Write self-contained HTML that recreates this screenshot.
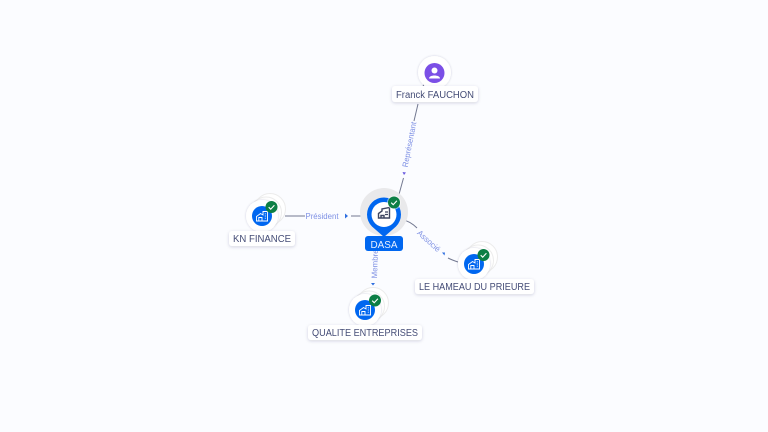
<!DOCTYPE html>
<html>
<head>
<meta charset="utf-8">
<style>
html,body{margin:0;padding:0;background:#fbfcff;}
svg{display:block;font-family:"Liberation Sans",sans-serif;}
.lbl{font-size:10px;fill:#444c76;text-anchor:middle;}
.edge{font-size:8px;fill:#7e90e4;text-anchor:middle;}
.ln{stroke:#737991;stroke-width:1;fill:none;}
.arr{fill:#2f6fe0;}
.bg{fill:#fff;filter:url(#s);}
.stack{fill:#fff;stroke:#ececec;stroke-width:1;}
</style>
</head>
<body>
<svg width="768" height="432" viewBox="0 0 768 432" xmlns="http://www.w3.org/2000/svg">
<defs>
<filter id="s" x="-30%" y="-60%" width="160%" height="220%"><feDropShadow dx="0" dy="1" stdDeviation="1.5" flood-color="#1a2450" flood-opacity="0.18"/></filter>
<filter id="c" x="-30%" y="-30%" width="160%" height="160%"><feDropShadow dx="0" dy="0" stdDeviation="1" flood-color="#1a2450" flood-opacity="0.2"/></filter>
<g id="check"><circle r="6" fill="#0d7f45"/><path d="M-2.800 0.200L-0.800 2.200L2.900-1.800" fill="none" stroke="#fff" stroke-width="1.100"/></g>
<g id="house"><path d="M-5.500 5V0.500L-1.500-2.500L1-1V-4.500H5.500V5H-5.500ZM-3.200 5V1.500H0V5M2.800-2.200H3.800M2.800 0H3.800M2.800 2.200H3.800" fill="none" stroke="#fff" stroke-width="0.900"/></g>
</defs>

<!-- connectors -->
<path class="ln" d="M285 216H305M351 216H368"/>
<path class="ln" d="M398 198L403.500 178M414 121L418 104M423 86L425 83"/>
<path class="ln" d="M403 220C409 221 413 224 417 228M448 258C452 260 455 261 458 262"/>
<path class="arr" d="M345 213.500L348 216L345 218.500Z"/>
<path d="M402.500 172L406 172.500L404 175Z" fill="#6a5ae0"/>
<path class="arr" d="M371 283H375L373 285.500Z"/>
<path class="arr" d="M442 252.500L445 252.500L444.500 255.500Z"/>
<text class="edge" x="322" y="219" textLength="33" lengthAdjust="spacingAndGlyphs">Président</text>
<text class="edge" transform="translate(412,145) rotate(-79)" textLength="46" lengthAdjust="spacingAndGlyphs">Représentant</text>
<text class="edge" transform="translate(377.500,264) rotate(-88)" textLength="29" lengthAdjust="spacingAndGlyphs">Membre</text>
<text class="edge" transform="translate(427,243) rotate(42)" textLength="28" lengthAdjust="spacingAndGlyphs">Associé</text>

<!-- Franck -->
<circle cx="434.500" cy="72.500" r="16.500" fill="#fff" filter="url(#c)"/>
<circle cx="434.500" cy="73" r="10" fill="#7b4fe6"/>
<circle cx="434.500" cy="70.500" r="3" fill="#fff"/>
<path d="M429 78.500C429 74.500 440 74.500 440 78.500Z" fill="#fff"/>
<rect class="bg" x="392" y="86" width="86" height="16" rx="3"/>
<text class="lbl" x="435" y="98" textLength="78" lengthAdjust="spacingAndGlyphs">Franck FAUCHON</text>

<!-- KN FINANCE -->
<circle class="stack" cx="270" cy="209" r="15.500"/>
<circle class="stack" cx="266" cy="212.500" r="15.500"/>
<circle cx="262" cy="216" r="16" fill="#fff" filter="url(#c)"/>
<circle cx="262" cy="216" r="10" fill="#0067f0"/>
<use href="#house" x="262" y="216"/>
<use href="#check" x="271.500" y="207"/>
<rect class="bg" x="229" y="231" width="66" height="15" rx="3"/>
<text class="lbl" x="262" y="242" textLength="58" lengthAdjust="spacingAndGlyphs">KN FINANCE</text>

<!-- LE HAMEAU -->
<circle class="stack" cx="482" cy="257" r="15.500"/>
<circle class="stack" cx="478" cy="260.500" r="15.500"/>
<circle cx="474" cy="264" r="16" fill="#fff" filter="url(#c)"/>
<circle cx="474" cy="264" r="10" fill="#0067f0"/>
<use href="#house" x="474" y="264"/>
<use href="#check" x="483.500" y="255"/>
<rect class="bg" x="415" y="279" width="119" height="15" rx="3"/>
<text class="lbl" x="474.500" y="290" textLength="111" lengthAdjust="spacingAndGlyphs">LE HAMEAU DU PRIEURE</text>

<!-- QUALITE -->
<circle class="stack" cx="373" cy="303" r="15.500"/>
<circle class="stack" cx="369" cy="306.500" r="15.500"/>
<circle cx="365" cy="310" r="16" fill="#fff" filter="url(#c)"/>
<circle cx="365" cy="310" r="10" fill="#0067f0"/>
<use href="#house" x="365" y="310"/>
<use href="#check" x="375" y="300.500"/>
<rect class="bg" x="308" y="325" width="114" height="15" rx="3"/>
<text class="lbl" x="365" y="336" textLength="106" lengthAdjust="spacingAndGlyphs">QUALITE ENTREPRISES</text>

<!-- DASA -->
<circle cx="384" cy="212" r="24" fill="#e9e9eb"/>
<path d="M384 237L372 226.500A17 17 0 1 1 396 226.500Z" fill="#0067f0"/>
<circle cx="384" cy="214.500" r="12.500" fill="#fff"/>
<path d="M378.500 218V213.500L382 211V209L389.500 207.500V218ZM381 218V215.500H384V218" fill="none" stroke="#3d4560" stroke-width="1.400"/>
<path d="M385 212H388M385 214.500H388" stroke="#3d4560" stroke-width="1.200"/>
<circle cx="394" cy="202.500" r="7" fill="#fff" opacity="0.5"/>
<use href="#check" x="394" y="202.500"/>
<rect x="365" y="236" width="38" height="15" rx="3" fill="#0067f0"/>
<text x="384" y="248" font-size="10.500" fill="#e8f0ff" text-anchor="middle" textLength="27" lengthAdjust="spacingAndGlyphs">DASA</text>
</svg>
</body>
</html>
